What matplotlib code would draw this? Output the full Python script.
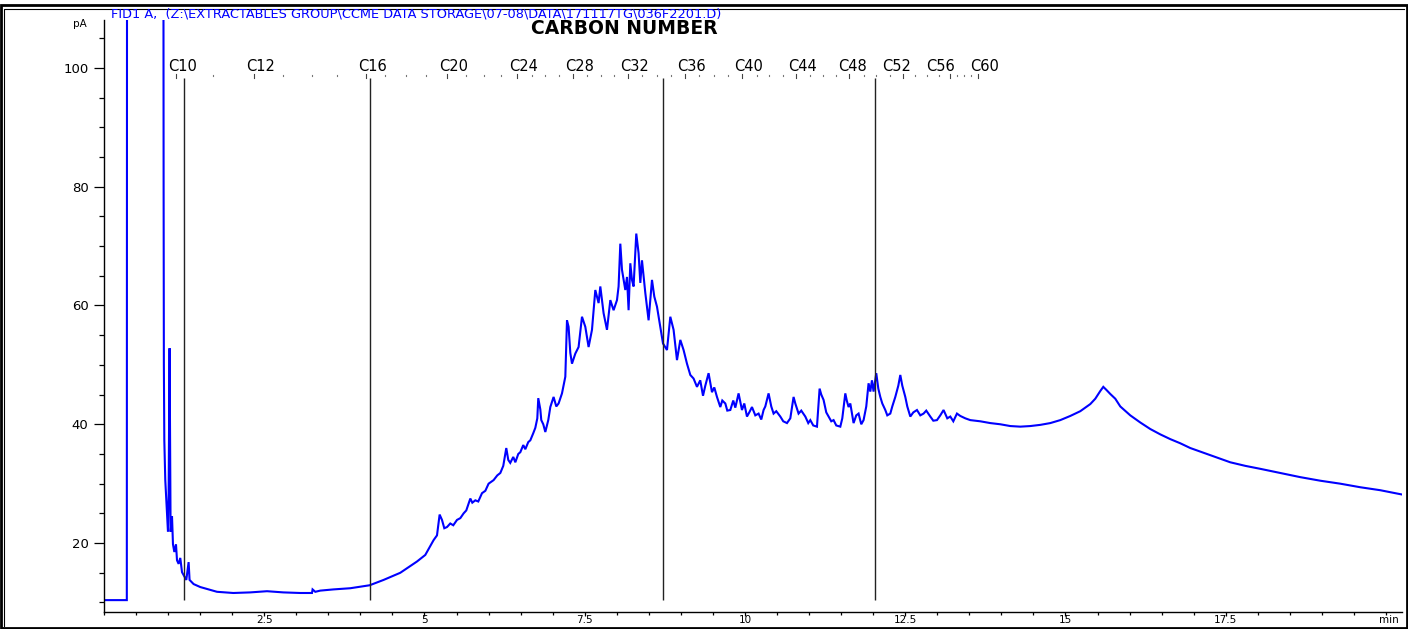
import matplotlib
matplotlib.use("Agg")
import matplotlib.pyplot as plt
from matplotlib.lines import Line2D
from matplotlib.patches import Rectangle
from matplotlib.ticker import MultipleLocator

# FID signal, retention time (min) and response (pA)
time_min = [
    0.020, 0.356, 0.360, 0.925, 0.930, 0.934, 0.941, 0.956, 0.983, 0.998,
    1.008, 1.023, 1.039, 1.061, 1.076, 1.097, 1.123, 1.139, 1.164, 1.190,
    1.217, 1.253, 1.284, 1.320, 1.335, 1.398, 1.502, 1.763, 2.017, 2.282,
    2.543, 2.797, 3.062, 3.245, 3.254, 3.296, 3.374, 3.577, 3.842, 4.144,
    4.362, 4.622, 4.883, 5.012, 5.142, 5.195, 5.236, 5.273, 5.309, 5.351,
    5.402, 5.449, 5.507, 5.559, 5.610, 5.652, 5.715, 5.746, 5.793, 5.839,
    5.897, 5.949, 6.000, 6.078, 6.136, 6.183, 6.229, 6.276, 6.307, 6.338,
    6.385, 6.417, 6.463, 6.495, 6.541, 6.573, 6.619, 6.651, 6.697, 6.729,
    6.760, 6.775, 6.807, 6.822, 6.853, 6.885, 6.931, 6.963, 7.014, 7.056,
    7.092, 7.145, 7.197, 7.223, 7.248, 7.275, 7.301, 7.353, 7.404, 7.457,
    7.509, 7.560, 7.613, 7.665, 7.716, 7.743, 7.794, 7.847, 7.899, 7.950,
    8.003, 8.028, 8.055, 8.081, 8.133, 8.159, 8.184, 8.211, 8.237, 8.262,
    8.304, 8.340, 8.367, 8.393, 8.445, 8.496, 8.549, 8.585, 8.627, 8.679,
    8.721, 8.783, 8.835, 8.886, 8.939, 8.991, 9.042, 9.095, 9.147, 9.198,
    9.251, 9.302, 9.345, 9.381, 9.432, 9.485, 9.521, 9.563, 9.615, 9.646,
    9.693, 9.724, 9.771, 9.817, 9.849, 9.900, 9.953, 9.989, 10.031, 10.067,
    10.109, 10.161, 10.212, 10.254, 10.290, 10.317, 10.368, 10.410, 10.446, 10.488,
    10.551, 10.597, 10.655, 10.707, 10.758, 10.785, 10.836, 10.878, 10.941, 10.987,
    11.019, 11.065, 11.123, 11.164, 11.190, 11.226, 11.268, 11.304, 11.346, 11.382,
    11.424, 11.487, 11.518, 11.565, 11.588, 11.616, 11.643, 11.694, 11.736, 11.772,
    11.814, 11.850, 11.892, 11.928, 11.955, 11.981, 12.006, 12.048, 12.080, 12.111,
    12.142, 12.189, 12.220, 12.267, 12.298, 12.345, 12.392, 12.423, 12.454, 12.501,
    12.532, 12.579, 12.626, 12.683, 12.735, 12.786, 12.828, 12.891, 12.938, 12.995,
    13.047, 13.098, 13.156, 13.203, 13.250, 13.307, 13.359, 13.437, 13.515, 13.593,
    13.671, 13.827, 13.983, 14.139, 14.295, 14.451, 14.607, 14.763, 14.919, 15.075,
    15.231, 15.387, 15.465, 15.543, 15.590, 15.637, 15.699, 15.777, 15.855, 16.011,
    16.167, 16.323, 16.479, 16.635, 16.791, 16.947, 17.103, 17.337, 17.571, 17.805,
    18.039, 18.352, 18.663, 18.975, 19.287, 19.599, 19.911, 20.239,
]
signal_pa = [
    10.4, 10.4, 150.0, 150.0, 80.0, 50.0, 37.3, 30.6, 25.2, 21.9,
    27.9, 52.8, 21.9, 24.5, 19.8, 18.5, 19.8, 17.1, 16.5, 17.5,
    15.1, 14.4, 13.8, 16.8, 13.8, 13.1, 12.6, 11.8, 11.6, 11.7,
    11.9, 11.7, 11.6, 11.6, 12.2, 11.8, 12.0, 12.2, 12.4, 12.9,
    13.8, 15.0, 16.9, 18.0, 20.5, 21.3, 24.8, 23.9, 22.5, 22.7,
    23.3, 23.0, 23.9, 24.2, 25.0, 25.5, 27.5, 26.8, 27.2, 27.0,
    28.4, 28.8, 30.0, 30.6, 31.4, 31.8, 33.0, 36.0, 34.0, 33.5,
    34.5, 33.6, 35.0, 35.3, 36.5, 35.8, 37.0, 37.3, 38.5, 39.4,
    41.0, 44.4, 42.5, 40.7, 40.0, 38.7, 40.7, 42.9, 44.6, 43.0,
    43.5, 45.2, 48.0, 57.5, 56.4, 52.0, 50.2, 51.9, 53.0, 58.1,
    56.4, 53.0, 55.9, 62.6, 60.4, 63.2, 58.7, 55.9, 60.9, 59.2,
    60.9, 63.2, 70.4, 66.0, 62.6, 64.8, 59.2, 67.1, 64.3, 63.2,
    72.1, 68.8, 63.8, 67.6, 62.1, 57.5, 64.3, 61.5, 59.8, 56.4,
    53.6, 52.5, 58.1, 55.9, 50.8, 54.2, 52.5, 50.2, 48.3, 47.7,
    46.3, 47.4, 44.8, 46.5, 48.6, 45.4, 46.2, 44.6, 42.9, 44.0,
    43.5, 42.3, 42.4, 44.0, 42.8, 45.2, 42.4, 43.5, 41.3, 42.0,
    42.9, 41.5, 41.8, 40.8, 42.4, 43.0, 45.2, 43.0, 41.8, 42.2,
    41.3, 40.5, 40.2, 41.0, 44.6, 43.5, 41.8, 42.3, 41.3, 40.2,
    40.7, 39.8, 39.6, 46.0, 45.0, 44.1, 42.0, 41.3, 40.5, 40.7,
    39.8, 39.6, 41.0, 45.2, 44.0, 42.9, 43.5, 40.2, 41.5, 41.8,
    40.0, 40.7, 43.0, 46.9, 45.5, 47.4, 45.5, 48.6, 46.0, 44.6,
    43.5, 42.4, 41.5, 41.8, 43.0, 44.6, 46.5, 48.3, 46.5, 44.6,
    43.0, 41.3, 42.0, 42.4, 41.5, 41.8, 42.3, 41.3, 40.6, 40.7,
    41.5, 42.4, 41.0, 41.3, 40.5, 41.8, 41.4, 41.0, 40.7, 40.6,
    40.5, 40.2, 40.0, 39.7, 39.6, 39.7, 39.9, 40.2, 40.7, 41.4,
    42.2, 43.4, 44.3, 45.6, 46.3, 45.8, 45.1, 44.3, 43.0, 41.5,
    40.3, 39.2, 38.3, 37.5, 36.8, 36.0, 35.4, 34.5, 33.6, 33.0,
    32.5, 31.8, 31.1, 30.5, 30.0, 29.4, 28.9, 28.2,
]

# n-alkane marker retention times (min) for C10 ... C60
carbon_numbers = list(range(10, 61))
carbon_rt = [
    1.128, 1.705, 2.345, 2.797, 3.250, 3.640, 4.092, 4.388, 4.716, 5.028,
    5.355, 5.650, 5.930, 6.200, 6.447, 6.670, 6.880, 7.100, 7.321, 7.540,
    7.760, 7.960, 8.180, 8.400, 8.620, 8.850, 9.070, 9.290, 9.520, 9.740,
    9.960, 10.180, 10.380, 10.600, 10.800, 11.010, 11.220, 11.420, 11.630, 11.850,
    12.050, 12.260, 12.470, 12.660, 12.840, 13.020, 13.200, 13.310, 13.420, 13.530,
    13.640,
]
labelled_carbons = [10, 12, 16, 20, 24, 28, 32, 36, 40, 44, 48, 52, 56, 60]

# fraction boundaries C10 / C16 / C34 / C50
fraction_rt = [1.253, 4.147, 8.725, 12.032]

W, H = 1408, 629
fig = plt.figure(figsize=(W / 100, H / 100), dpi=100)
ax = fig.add_axes([104 / W, 1 - 612 / H, (1402 - 104) / W, (612 - 20) / H])

ax.plot(time_min, signal_pa, color="#0000ff", lw=1.5, solid_joinstyle="miter")

ax.set_xlim(0, 20.25)
ax.set_ylim(8.4, 108.05)

# carbon number scale along the top
label_x = {}
for c, rt in zip(carbon_numbers, carbon_rt):
    if c in labelled_carbons:
        ax.plot([rt, rt], [98.35, 99.0], color="#444444", lw=0.8)
        label_x[c] = rt + 0.1
    else:
        ax.plot([rt, rt], [98.55, 98.8], color="#777777", lw=0.8)

# push crowded labels leftwards so they don't run into each other
min_gap = 0.69
for a, b in zip(labelled_carbons[-2::-1], labelled_carbons[:0:-1]):
    label_x[a] = min(label_x[a], label_x[b] - min_gap)
for c in labelled_carbons:
    ax.text(label_x[c], 100.3, "C%d" % c, ha="center", va="center",
            fontsize=10.5, color="black")

ax.vlines(fraction_rt, 10.4, 98.3, color="#222222", lw=1.0)

for side in ["top", "right"]:
    ax.spines[side].set_visible(False)
ax.spines["left"].set_linewidth(1.0)
ax.spines["bottom"].set_linewidth(1.0)

ax.xaxis.set_minor_locator(MultipleLocator(0.5))
ax.yaxis.set_minor_locator(MultipleLocator(5))
ax.set_xticks([2.5, 5, 7.5, 10, 12.5, 15, 17.5])
ax.set_xticklabels(["2.5", "5", "7.5", "10", "12.5", "15", "17.5"])
ax.set_yticks([20, 40, 60, 80, 100])
ax.tick_params(axis="y", which="major", direction="out", length=7.2, width=0.9,
               pad=4.0, labelsize=9.5)
ax.tick_params(axis="y", which="minor", direction="out", length=3.6, width=0.9)
ax.tick_params(axis="x", which="major", direction="out", length=3.0, width=0.9,
               pad=-0.5, labelsize=7.5)
ax.tick_params(axis="x", which="minor", direction="out", length=2.2, width=0.9)

fig.text(111 / W, 1 - 14 / H,
         r"FID1 A,  (Z:\EXTRACTABLES GROUP\CCME DATA STORAGE\07-08\DATA\171117TG\036F2201.D)",
         color="#0000ff", fontsize=9.3, ha="left", va="center")
fig.text(624 / W, 1 - 28 / H, "CARBON NUMBER", fontsize=13.5, fontweight="bold",
         ha="center", va="center")
fig.text(80 / W, 1 - 24 / H, "pA", fontsize=7.5, ha="center", va="center")
fig.text(1389 / W, 1 - 620 / H, "min", fontsize=7.5, ha="center", va="center")

# frame round the whole plot: heavy outer line, thin inner line top and left
fig.add_artist(Rectangle((1.2 / W, 1 - 628 / H), 1405.6 / W, 622.8 / H,
                         transform=fig.transFigure, fill=False, lw=2.0,
                         edgecolor="black"))
fig.add_artist(Line2D([4 / W, 4 / W, 1404 / W], [1 - 626 / H, 1 - 8.5 / H, 1 - 8.5 / H],
                      transform=fig.transFigure, lw=0.8, color="black"))

fig.savefig("out.png", dpi=100)
